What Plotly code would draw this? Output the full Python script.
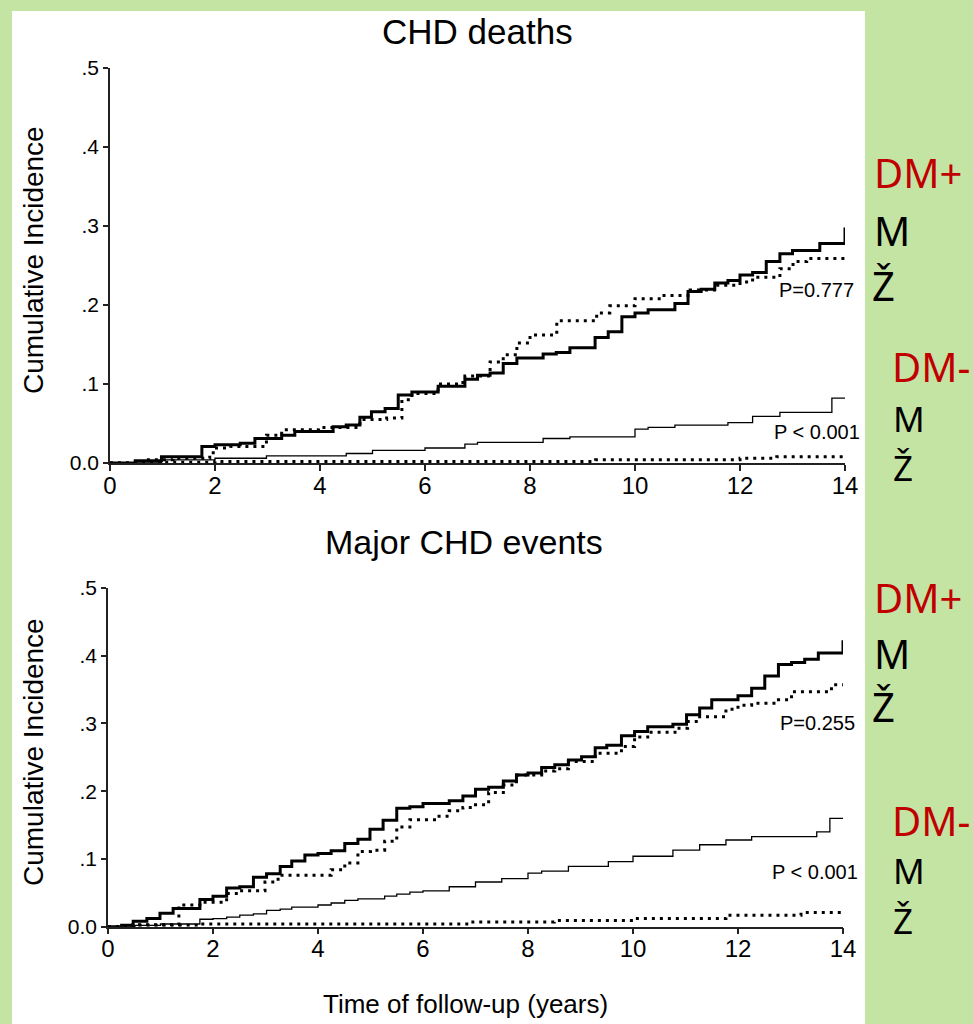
import plotly.graph_objects as go

W, H = 973, 1024


def px(x):
    return x / W


def py(y):
    return 1 - y / H


# ---------------- CHD deaths: cumulative incidence by follow-up year ----------------
chd_dmp_m_t = [0, 0.48, 0.98, 1.75, 2.0, 2.48, 2.76, 3.27, 3.52, 4.25, 4.5, 4.76, 4.98, 5.24,
               5.49, 5.75, 6.25, 6.76, 7.0, 7.24, 7.49, 7.75, 8.25, 8.5, 8.76, 9.24, 9.49, 9.75,
               10.0, 10.25, 10.76, 11.01, 11.26, 11.52, 11.77, 12.0, 12.24, 12.5, 12.76, 13.0,
               13.52, 14.0]
chd_dmp_m_y = [0, 0.003, 0.008, 0.021, 0.023, 0.025, 0.031, 0.035, 0.040, 0.046, 0.048, 0.058,
               0.065, 0.069, 0.086, 0.090, 0.097, 0.106, 0.111, 0.114, 0.126, 0.133, 0.138, 0.140,
               0.146, 0.159, 0.166, 0.185, 0.190, 0.194, 0.202, 0.217, 0.220, 0.228, 0.231, 0.238,
               0.241, 0.255, 0.265, 0.269, 0.278, 0.298]

chd_dmp_f_t = [0, 0.7, 1.2, 1.9, 2.0, 2.3, 2.98, 3.27, 3.97, 4.76, 5.27, 5.56, 5.75, 6.25, 6.6,
               6.76, 7.24, 7.49, 7.75, 8.0, 8.51, 9.27, 9.52, 10.0, 10.52, 11.05, 11.55, 12.0,
               12.24, 12.76, 13.01, 13.27, 14.0]
chd_dmp_f_y = [0, 0.004, 0.006, 0.013, 0.019, 0.021, 0.035, 0.042, 0.045, 0.055, 0.057, 0.080,
               0.088, 0.100, 0.102, 0.110, 0.128, 0.137, 0.152, 0.162, 0.180, 0.190, 0.199, 0.208,
               0.212, 0.219, 0.225, 0.229, 0.235, 0.246, 0.255, 0.259, 0.259]

chd_dmm_m_t = [0, 0.98, 2.0, 2.98, 4.5, 5.0, 6.0, 6.76, 7.0, 8.25, 8.76, 10.0, 10.25, 10.76,
               11.77, 12.24, 12.76, 13.75, 14.0]
chd_dmm_m_y = [0, 0.004, 0.006, 0.009, 0.012, 0.016, 0.019, 0.024, 0.026, 0.031, 0.033, 0.043,
               0.045, 0.048, 0.051, 0.059, 0.064, 0.082, 0.082]

chd_dmm_f_t = [0, 1.0, 2.0, 9.25, 12.0, 12.7, 14.0]
chd_dmm_f_y = [0, 0.001, 0.002, 0.004, 0.006, 0.008, 0.008]

# ---------------- Major CHD events ----------------
mce_dmp_m_t = [0, 0.26, 0.48, 0.74, 0.99, 1.24, 1.75, 2.0, 2.26, 2.51, 2.77, 3.02, 3.28, 3.5,
               3.75, 4.0, 4.25, 4.51, 4.76, 4.99, 5.24, 5.5, 5.75, 6.0, 6.5, 6.76, 7.0, 7.25,
               7.53, 7.78, 8.0, 8.26, 8.51, 8.77, 9.02, 9.28, 9.5, 9.78, 10.03, 10.28, 10.76,
               11.02, 11.27, 11.5, 12.0, 12.26, 12.51, 12.77, 13.02, 13.27, 13.53, 14.0]
mce_dmp_m_y = [0, 0.002, 0.008, 0.012, 0.020, 0.027, 0.040, 0.045, 0.057, 0.059, 0.073, 0.078,
               0.089, 0.097, 0.106, 0.108, 0.112, 0.123, 0.129, 0.144, 0.157, 0.175, 0.177,
               0.182, 0.186, 0.193, 0.203, 0.206, 0.215, 0.224, 0.227, 0.235, 0.239, 0.246,
               0.251, 0.264, 0.268, 0.282, 0.288, 0.295, 0.299, 0.313, 0.323, 0.335, 0.341,
               0.352, 0.370, 0.387, 0.390, 0.395, 0.404, 0.423]

mce_dmp_f_t = [0, 0.47, 1.35, 1.75, 2.26, 2.51, 2.99, 3.24, 4.25, 4.51, 4.76, 5.0, 5.27, 5.5,
               5.75, 6.25, 6.5, 6.76, 7.0, 7.25, 7.53, 7.78, 8.26, 8.51, 8.77, 9.28, 9.78, 10.03,
               10.28, 10.8, 11.04, 11.27, 11.77, 12.0, 12.26, 12.77, 13.02, 13.78, 14.0]
mce_dmp_f_y = [0, 0.003, 0.032, 0.036, 0.049, 0.053, 0.066, 0.076, 0.084, 0.094, 0.111, 0.113,
               0.126, 0.147, 0.158, 0.163, 0.171, 0.176, 0.180, 0.198, 0.209, 0.224, 0.230,
               0.233, 0.244, 0.256, 0.266, 0.280, 0.287, 0.293, 0.303, 0.310, 0.321, 0.327,
               0.330, 0.335, 0.347, 0.357, 0.357]

mce_dmm_m_t = [0, 0.5, 1.0, 1.75, 2.0, 2.26, 2.51, 2.77, 3.02, 3.28, 3.5, 4.0, 4.25, 4.51, 4.76,
               5.27, 5.5, 5.75, 6.0, 6.5, 7.0, 7.5, 8.0, 8.26, 8.77, 9.53, 10.0, 10.76, 11.27,
               11.77, 12.26, 13.5, 13.75, 14.0]
mce_dmm_m_y = [0, 0.002, 0.004, 0.011, 0.012, 0.014, 0.017, 0.019, 0.024, 0.026, 0.029, 0.032,
               0.035, 0.039, 0.041, 0.045, 0.048, 0.051, 0.053, 0.059, 0.066, 0.071, 0.079,
               0.082, 0.089, 0.096, 0.104, 0.113, 0.121, 0.128, 0.133, 0.140, 0.160, 0.160]

mce_dmm_f_t = [0, 0.5, 1.75, 6.95, 8.5, 10.0, 11.77, 13.2, 14.0]
mce_dmm_f_y = [0, 0.002, 0.004, 0.007, 0.009, 0.012, 0.017, 0.021, 0.021]

x_ticks = [0, 2, 4, 6, 8, 10, 12, 14]
y_ticks = [0, 0.1, 0.2, 0.3, 0.4, 0.5]
y_ticktext = ["0.0", ".1", ".2", ".3", ".4", ".5"]

GREEN = "#c4e4a4"
RED = "#c00000"
FONT = "Liberation Sans, Arial, sans-serif"
LABEL_FONT = "Noto Sans, Open Sans, sans-serif"

THICK = dict(width=3.0, dash="solid")
THICK_DOT = dict(width=3.0, dash="3px,5px")
THIN = dict(width=1.3, dash="solid")
THIN_DOT = dict(width=3.0, dash="3px,5px")

fig = go.Figure()


def add_curve(t, y, xa, ya, style):
    fig.add_trace(go.Scatter(
        x=t, y=y, mode="lines", xaxis=xa, yaxis=ya,
        line=dict(shape="hv", color="black", **style),
        showlegend=False, hoverinfo="skip",
    ))


add_curve(chd_dmp_m_t, chd_dmp_m_y, "x", "y", THICK)
add_curve(chd_dmp_f_t, chd_dmp_f_y, "x", "y", THICK_DOT)
add_curve(chd_dmm_m_t, chd_dmm_m_y, "x", "y", THIN)
add_curve(chd_dmm_f_t, chd_dmm_f_y, "x", "y", THIN_DOT)

add_curve(mce_dmp_m_t, mce_dmp_m_y, "x2", "y2", THICK)
add_curve(mce_dmp_f_t, mce_dmp_f_y, "x2", "y2", THICK_DOT)
add_curve(mce_dmm_m_t, mce_dmm_m_y, "x2", "y2", THIN)
add_curve(mce_dmm_f_t, mce_dmm_f_y, "x2", "y2", THIN_DOT)


def xaxis_cfg(domain, anchor):
    return dict(
        domain=domain, anchor=anchor, range=[0, 14], tickvals=x_ticks,
        ticks="outside", ticklen=6, tickwidth=1.5, tickcolor="#222",
        showline=True, linewidth=1.5, linecolor="#222",
        showgrid=False, zeroline=False, automargin=False,
        ticklabelstandoff=-6,
        tickfont=dict(family=FONT, size=24, color="black"),
    )


def yaxis_cfg(domain, anchor):
    return dict(
        domain=domain, anchor=anchor, range=[0, 0.5], tickvals=y_ticks, ticktext=y_ticktext,
        ticks="outside", ticklen=5, tickwidth=1.5, tickcolor="#222",
        showline=True, linewidth=1.5, linecolor="#222",
        showgrid=False, zeroline=False, automargin=False,
        tickfont=dict(family=FONT, size=21, color="black"),
    )


annotations = []


def note(text, x, y, size, xanchor="center", color="black", family=FONT, angle=0):
    annotations.append(dict(
        text=text, x=px(x), y=py(y), xref="paper", yref="paper",
        xanchor=xanchor, yanchor="middle", showarrow=False, textangle=angle,
        font=dict(family=family, size=size, color=color),
    ))


# panel titles and axis titles
note("CHD deaths", 477, 31, 35)
note("Major CHD events", 464, 542, 34)
note("Time of follow-up (years)", 465, 1004, 26)
note("Cumulative Incidence", 33, 260, 28, angle=-90)
note("Cumulative Incidence", 33, 752, 28, angle=-90)

# p-values
note("P=0.777", 856, 290, 20, xanchor="right")
note("P < 0.001", 862, 432, 20, xanchor="right")
note("P=0.255", 857, 723, 20, xanchor="right")
note("P < 0.001", 860, 872, 20, xanchor="right")

# group labels on the side
note("DM+", 872, 172, 40, xanchor="left", color=RED, family=LABEL_FONT)
note("M", 872, 230, 40, xanchor="left", family=LABEL_FONT)
note("Ž", 870, 285, 40, xanchor="left", family=LABEL_FONT)
note("DM-", 890, 366, 40, xanchor="left", color=RED, family=LABEL_FONT)
note("M", 891, 418, 35, xanchor="left", family=LABEL_FONT)
note("Ž", 891, 467, 35, xanchor="left", family=LABEL_FONT)

note("DM+", 872, 597, 40, xanchor="left", color=RED, family=LABEL_FONT)
note("M", 872, 653, 40, xanchor="left", family=LABEL_FONT)
note("Ž", 870, 706, 40, xanchor="left", family=LABEL_FONT)
note("DM-", 890, 820, 40, xanchor="left", color=RED, family=LABEL_FONT)
note("M", 891, 870, 35, xanchor="left", family=LABEL_FONT)
note("Ž", 891, 920, 35, xanchor="left", family=LABEL_FONT)

fig.update_layout(
    width=W, height=H,
    margin=dict(l=0, r=0, t=0, b=0, pad=0),
    paper_bgcolor=GREEN,
    plot_bgcolor="rgba(0,0,0,0)",
    xaxis=xaxis_cfg([px(110), px(845)], "y"),
    yaxis=yaxis_cfg([py(463), py(68)], "x"),
    xaxis2=xaxis_cfg([px(108), px(843)], "y2"),
    yaxis2=yaxis_cfg([py(926.7), py(588)], "x2"),
    annotations=annotations,
    shapes=[dict(
        type="rect", xref="paper", yref="paper",
        x0=px(12), x1=px(865), y0=-0.01, y1=py(11),
        fillcolor="white", line=dict(width=0), layer="below",
    )],
)

fig.write_html("out.html")
